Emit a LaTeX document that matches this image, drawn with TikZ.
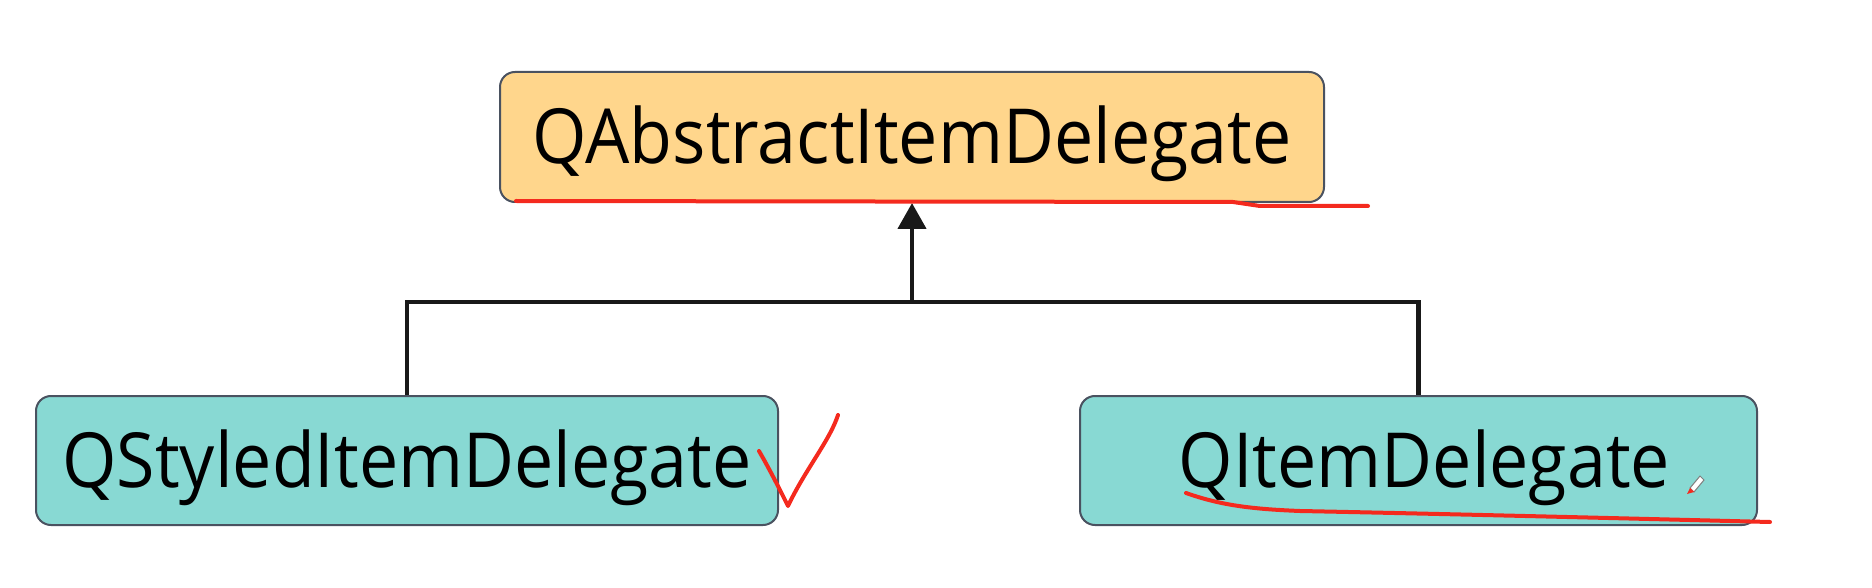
\documentclass[tikz,border=0pt]{standalone}
\usepackage{fontspec}
\setmainfont{Open Sans}
\usetikzlibrary{arrows.meta}
\definecolor{topfill}{HTML}{FFD68C}
\definecolor{subfill}{HTML}{88D9D3}
\definecolor{boxline}{HTML}{4A5260}
\definecolor{inkred}{HTML}{F42A1E}
\tikzset{
  classbox/.style={draw=boxline, line width=2pt, rounded corners=15pt, inner sep=0pt,
    text height=54pt, text depth=0pt, font=\fontsize{76}{80}\selectfont, text=black},
  link/.style={line width=4.5pt, draw=black!90},
  ink/.style={draw=inkred, line width=4pt, line cap=round, line join=round}
}
\newcommand{\cls}[1]{\scalebox{0.92}[1]{#1}}
\begin{document}
\begin{tikzpicture}[x=1pt,y=-1pt]
\useasboundingbox (0,0) rectangle (1872,588);
\node[classbox, fill=topfill, minimum width=824pt, minimum height=130pt] (top) at (912,137) {\cls{QAbstractItemDelegate}};
\node[classbox, fill=subfill, minimum width=742pt, minimum height=129pt] (left) at (407,460.5) {\cls{QStyledItemDelegate}};
\node[classbox, fill=subfill, minimum width=677pt, minimum height=129pt] (right) at (1418.5,460.5) {\hspace*{12pt}\cls{QItemDelegate}};
\coordinate (junc) at (912,302);
\draw[link] (left.north) -- (left.north |- junc) -- (right.north |- junc) -- (right.north);
\draw[link, -{Triangle[length=26pt,width=28pt]}] (junc) -- (top.south);
% red hand annotations
\draw[ink] (516,201) -- (1233,202) -- (1260,206) -- (1368,206);
\draw[ink] (759,451) .. controls (770,470) and (780,490) .. (788,506) .. controls (805,470) and (830,440) .. (838,415);
\draw[ink] (1186,493) .. controls (1220,505) and (1250,509) .. (1300,511) .. controls (1450,514) and (1650,519) .. (1770,522);
% pencil cursor
\draw[draw=gray, fill=white, line width=1pt] (1690,488) -- (1700,476) -- (1704,480) -- (1694,492) -- cycle;
\fill[inkred] (1687,494) -- (1690,488) -- (1694,492) -- cycle;
\end{tikzpicture}
\end{document}
